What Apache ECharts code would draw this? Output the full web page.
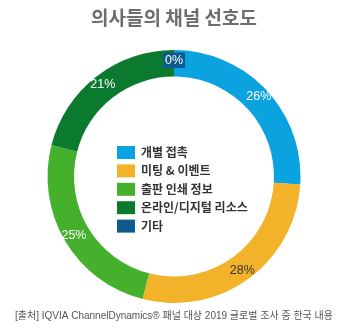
<!DOCTYPE html>
<html>
<head>
<meta charset="utf-8">
<script src="https://cdn.jsdelivr.net/npm/echarts@6/dist/echarts.min.js"></script>
<style>
  html, body { margin: 0; padding: 0; background: #ffffff; }
  #chart { width: 348px; height: 331px; }
</style>
</head>
<body>
<div id="chart"></div>
<script>
// Channel preference shares (%)
const channels = ['개별 접촉', '미팅 & 이벤트', '출판 인쇄 정보', '온라인/디지털 리소스', '기타'];
const shares = [26, 28, 25, 21, 0];
const colors = ['#0aa3e0', '#f2b32a', '#44b02c', '#0b7a2f', '#0d5a8e'];
const labelColors = ['#ffffff', '#333333', '#ffffff', '#ffffff', '#ffffff'];

const titleText = '의사들의 채널 선호도';
const sourceText = '[출처] IQVIA ChannelDynamics® 패널 대상 2019 글로벌 조사 중 한국 내용';

const FONT = '"Liberation Sans", "Noto Sans CJK KR", sans-serif';

const chart = echarts.init(document.getElementById('chart'), null, { renderer: 'canvas' });

chart.setOption({
  animation: false,
  backgroundColor: '#ffffff',
  title: [
    {
      text: titleText,
      left: 'center',
      top: 3,
      textStyle: { fontFamily: '"Noto Sans CJK KR", sans-serif', fontSize: 19, fontWeight: 'bold', color: '#6b6e70' }
    },
    {
      text: sourceText,
      left: 'center',
      top: 306,
      textStyle: { fontFamily: FONT, fontSize: 10, fontWeight: 'normal', color: '#555555' }
    }
  ],
  legend: {
    orient: 'vertical',
    left: 112,
    top: 141,
    itemWidth: 18,
    itemHeight: 13,
    itemGap: 5.4,
    icon: 'rect',
    selectedMode: false,
    data: channels,
    textStyle: { fontFamily: '"Noto Sans CJK KR", sans-serif', fontSize: 12, fontWeight: 'bold', color: '#333333', padding: [0, 0, 0, 1] }
  },
  series: [{
    type: 'pie',
    center: [174, 176.5],
    radius: [100, 126.5],
    startAngle: 90,
    clockwise: true,
    avoidLabelOverlap: false,
    silent: true,
    itemStyle: { borderWidth: 0 },
    label: {
      show: true,
      position: 'inside',
      formatter: '{c}%',
      fontFamily: FONT,
      fontSize: 12.5
    },
    labelLine: { show: false },
    data: channels.map((name, i) => ({
      name: name,
      value: shares[i],
      itemStyle: { color: colors[i] },
      label: i === 4
        ? { color: labelColors[i], backgroundColor: colors[i], padding: [2, 2, 1, 2] }
        : { color: labelColors[i] }
    }))
  }]
});
</script>
</body>
</html>
